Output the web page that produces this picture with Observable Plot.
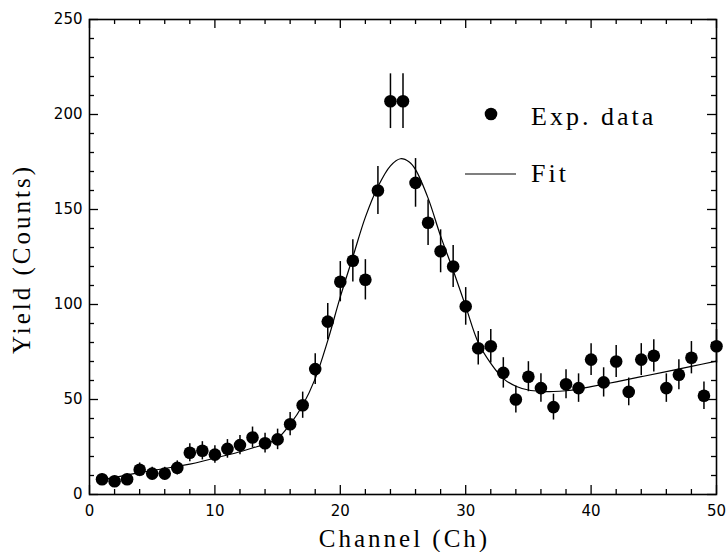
<!DOCTYPE html>
<html>
<head>
<meta charset="utf-8">
<script src="https://cdn.jsdelivr.net/npm/d3@7"></script>
<script src="https://cdn.jsdelivr.net/npm/@observablehq/plot@0.6"></script>
<style>
  html, body { margin: 0; padding: 0; background: white; }
  #chart { width: 727px; height: 552px; }
</style>
</head>
<body>
<div id="chart"></div>
<script>
// ---- data ----
const channels = [1,2,3,4,5,6,7,8,9,10,11,12,13,14,15,16,17,18,19,20,21,22,23,24,25,26,27,28,29,30,31,32,33,34,35,36,37,38,39,40,41,42,43,44,45,46,47,48,49,50];
const counts   = [8,7,8,13,11,11,14,22,23,21,24,26,30,27,29,37,47,66,91,112,123,113,160,207,207,164,143,128,120,99,77,78,64,50,62,56,46,58,56,71,59,70,54,71,73,56,63,72,52,78];
const errors   = [2.8,2.6,2.8,3.6,3.3,3.3,3.7,4.7,4.8,4.6,4.9,5.1,5.5,5.2,5.4,6.1,6.9,8.1,9.5,10.6,11.1,10.6,12.6,14.4,14.4,12.8,12.0,11.3,11.0,9.9,8.8,8.8,8.0,7.1,7.9,7.5,6.8,7.6,7.5,8.4,7.7,8.4,7.3,8.4,8.5,7.5,7.9,8.5,7.2,8.8];

const fitX = [1,2,3,4,5,6,7,8,9,10,11,12,13,14,15,16,17,18,19,20,21,22,23,24,24.8,25.5,26,27,28,29,30,31,32,33,34,35,36,37,38,39,40,42,44,46,48,50];
const fitY = [7.7,9.0,10.3,11.5,12.6,13.7,14.8,16.0,17.5,19.2,20.8,22.5,24.5,26.5,29.5,37,47,61,81,104,125,146,162,173,176.7,175,171,156,136,118,99,80,69,61,57,55,54.3,54.2,54.6,55.5,56.8,59.3,62,64.7,67.4,70.2];

const xTicks = [0,10,20,30,40,50];
const yTicks = [0,50,100,150,200,250];
const xMinor = [2,4,6,8,12,14,16,18,22,24,26,28,32,34,36,38,42,44,46,48];
const yMinor = [10,20,30,40,60,70,80,90,110,120,130,140,160,170,180,190,210,220,230,240];

const xLabel = "Channel (Ch)";
const yLabel = "Yield (Counts)";
const legendLabels = ["Exp. data", "Fit"];

const points = channels.map((c, i) => ({x: c, y: counts[i], e: errors[i]}));
const fit = fitX.map((x, i) => ({x, y: fitY[i]}));

// ---- layout ----
const W = 727, H = 552, mL = 89, mR = 11, mT = 19, mB = 58;
const pw = W - mL - mR, ph = H - mT - mB;
const MAJ = 9, MIN = 5;

const plot = Plot.plot({
  width: W, height: H,
  marginLeft: mL, marginRight: mR, marginTop: mT, marginBottom: mB,
  style: {fontFamily: "DejaVu Sans", fontSize: "15px", color: "black", background: "white"},
  x: {domain: [0, 50], ticks: xTicks, tickSize: 0, tickPadding: 11, label: null, tickFormat: d => String(d)},
  y: {domain: [0, 250], ticks: yTicks, tickSize: 0, tickPadding: 7, label: null, tickFormat: d => String(d)},
  marks: [
    // inward ticks: bottom / top
    Plot.ruleX(xTicks, {x: d => d, insetTop: ph - MAJ, stroke: "black", strokeWidth: 1.3}),
    Plot.ruleX(xMinor, {x: d => d, insetTop: ph - MIN, stroke: "black", strokeWidth: 1.3}),
    Plot.ruleX(xTicks, {x: d => d, insetBottom: ph - MAJ, stroke: "black", strokeWidth: 1.3}),
    Plot.ruleX(xMinor, {x: d => d, insetBottom: ph - MIN, stroke: "black", strokeWidth: 1.3}),
    // inward ticks: left / right
    Plot.ruleY(yTicks, {y: d => d, insetRight: pw - MAJ, stroke: "black", strokeWidth: 1.3}),
    Plot.ruleY(yMinor, {y: d => d, insetRight: pw - MIN, stroke: "black", strokeWidth: 1.3}),
    Plot.ruleY(yTicks, {y: d => d, insetLeft: pw - MAJ, stroke: "black", strokeWidth: 1.3}),
    Plot.ruleY(yMinor, {y: d => d, insetLeft: pw - MIN, stroke: "black", strokeWidth: 1.3}),
    // fit
    Plot.line(fit, {x: "x", y: "y", stroke: "black", strokeWidth: 1.2, curve: "catmull-rom"}),
    // error bars
    Plot.ruleX(points, {x: "x", y1: d => d.y - d.e, y2: d => d.y + d.e, stroke: "black", strokeWidth: 1.5}),
    // data points
    Plot.dot(points, {x: "x", y: "y", r: 6.3, fill: "black", stroke: "none"}),
    Plot.frame({stroke: "black", strokeWidth: 1.6})
  ]
});

document.getElementById("chart").appendChild(plot);

// ---- titles and legend (serif) ----
const svg = d3.select(plot);
const serif = "'Liberation Serif', 'DejaVu Serif', serif";

svg.append("text")
  .attr("x", mL + pw / 2 + 2).attr("y", 547)
  .attr("text-anchor", "middle")
  .attr("font-family", serif).attr("font-size", 25)
  .attr("letter-spacing", 3)
  .attr("fill", "black")
  .text(xLabel);

svg.append("text")
  .attr("transform", `translate(30, ${259}) rotate(-90)`)
  .attr("text-anchor", "middle")
  .attr("font-family", serif).attr("font-size", 25)
  .attr("letter-spacing", 3)
  .attr("fill", "black")
  .text(yLabel);

const lg = svg.append("g").attr("text-anchor", "start");
lg.append("circle").attr("cx", 491).attr("cy", 114).attr("r", 6.3).attr("fill", "black");
lg.append("text").attr("x", 531).attr("y", 125)
  .attr("text-anchor", "start")
  .attr("font-family", serif).attr("font-size", 26).attr("letter-spacing", 3)
  .attr("fill", "black").text(legendLabels[0]);
lg.append("line").attr("x1", 465).attr("x2", 516).attr("y1", 174).attr("y2", 174)
  .attr("stroke", "black").attr("stroke-width", 1.2);
lg.append("text").attr("x", 531).attr("y", 182)
  .attr("text-anchor", "start")
  .attr("font-family", serif).attr("font-size", 26).attr("letter-spacing", 3)
  .attr("fill", "black").text(legendLabels[1]);
</script>
</body>
</html>
